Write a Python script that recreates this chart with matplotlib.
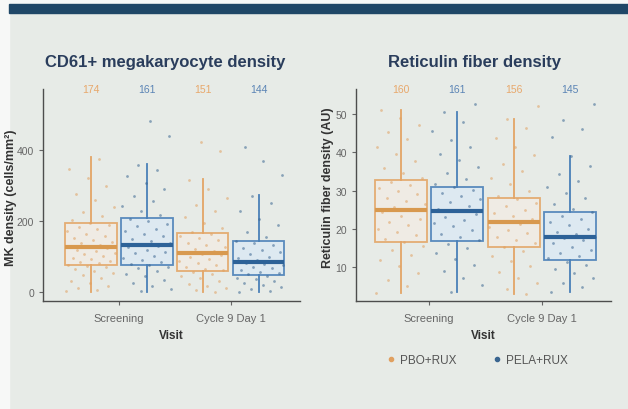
import matplotlib
matplotlib.use('Agg')
import matplotlib.pyplot as plt
import numpy as np
from matplotlib.patches import Rectangle
from matplotlib.lines import Line2D

plt.rcParams['font.family'] = ['Liberation Sans', 'DejaVu Sans']

visits = ['Screening', 'Cycle 9 Day 1']
arms = ['PBO+RUX', 'PELA+RUX']

# box stats, order: PBO scr, PELA scr, PBO c9, PELA c9
mk_q1 = [76, 76, 60, 49]
mk_med = [126, 134, 110, 84]
mk_q3 = [196, 210, 166, 145]
mk_lo = [0, 0, 0, 0]
mk_hi = [380, 360, 318, 273]
mk_n = [174, 161, 151, 144]

rf_q1 = [16.5, 16.9, 15.4, 11.9]
rf_med = [24.9, 24.6, 21.9, 18.0]
rf_q3 = [32.8, 30.9, 28.0, 24.5]
rf_lo = [3.4, 3.6, 3.0, 3.6]
rf_hi = [50.9, 50.4, 48.7, 39.1]
rf_n = [160, 161, 156, 145]

# individual points (read off roughly)
mk_pbo_scr = [3, 6, 12, 18, 25, 31, 40, 47, 55, 60, 66, 70, 74, 77, 81, 84, 88, 93, 97, 102, 106, 111,
              115, 119, 123, 126, 129, 134, 139, 142, 148, 153, 159, 165, 171, 178, 184, 190, 195, 203,
              214, 226, 241, 259, 276, 298, 320, 347, 375]
mk_pela_scr = [2, 9, 17, 26, 35, 44, 52, 60, 67, 72, 76, 80, 86, 91, 97, 103, 109, 114, 120, 126, 131,
               134, 138, 144, 150, 157, 164, 171, 178, 186, 193, 200, 207, 216, 229, 243, 258, 272, 290,
               307, 326, 344, 358, 440, 481]
mk_pbo_c9 = [1, 5, 11, 18, 24, 32, 39, 46, 52, 57, 61, 66, 71, 76, 82, 88, 94, 99, 104, 108, 111, 115,
             121, 127, 133, 139, 146, 152, 158, 163, 170, 181, 195, 211, 228, 246, 265, 289, 315, 397, 422]
mk_pela_c9 = [1, 4, 9, 14, 19, 25, 30, 36, 41, 46, 50, 54, 58, 62, 67, 71, 75, 79, 83, 86, 90, 95, 100,
              106, 112, 118, 125, 132, 139, 145, 156, 170, 188, 207, 228, 250, 271, 330, 370, 408]

rf_pbo_scr = [3.4, 5.0, 6.8, 8.5, 10.2, 11.8, 13.1, 14.5, 15.6, 16.6, 17.4, 18.3, 19.2, 20.1, 21.0, 21.8,
              22.7, 23.5, 24.3, 24.9, 25.6, 26.4, 27.3, 28.1, 29.0, 29.8, 30.6, 31.5, 32.3, 33.2, 34.5,
              36.0, 37.8, 39.6, 41.5, 43.4, 45.2, 47.1, 49.0, 50.9]
rf_pela_scr = [3.6, 5.4, 7.2, 8.9, 10.5, 12.1, 13.6, 15.0, 16.1, 17.0, 17.9, 18.8, 19.8, 20.7, 21.5, 22.4,
               23.2, 24.0, 24.6, 25.3, 26.1, 26.9, 27.8, 28.6, 29.4, 30.2, 30.9, 31.8, 33.1, 34.6, 36.2,
               37.9, 39.5, 41.4, 43.3, 45.5, 47.8, 50.4, 52.6]
rf_pbo_c9 = [3.0, 4.4, 5.9, 7.3, 8.8, 10.3, 11.7, 13.0, 14.2, 15.3, 16.2, 17.1, 18.0, 18.9, 19.7, 20.5,
             21.3, 21.9, 22.6, 23.4, 24.2, 25.0, 25.9, 26.8, 27.7, 28.6, 30.0, 31.6, 33.3, 35.1, 37.0,
             39.2, 41.5, 43.8, 46.2, 48.7, 52.0]
rf_pela_c9 = [3.6, 4.8, 6.0, 7.2, 8.4, 9.5, 10.6, 11.5, 12.3, 13.0, 13.8, 14.6, 15.4, 16.2, 17.0, 17.6,
              18.0, 18.6, 19.3, 20.1, 20.9, 21.7, 22.5, 23.4, 24.3, 25.3, 26.6, 28.0, 29.5, 31.0, 32.6,
              34.4, 36.5, 39.1, 44.0, 46.0, 48.5, 52.6]

BG = '#e7ebe7'
ORANGE = '#e3a566'
BLUE = '#4a80b8'
ORANGE_MED = '#d8994f'
BLUE_MED = '#2d6298'
DOT_O = '#e0a060'
DOT_B = '#3a6590'
NAVY = '#2a3d5c'

fig = plt.figure(figsize=(6.28, 4.10), dpi=100, facecolor=BG)
# slide decoration (behind everything)
fig.patches.append(Rectangle((0, 0), 9 / 628, 1, transform=fig.transFigure, color='#f7f8f7', zorder=-5))
fig.patches.append(Rectangle((0, 1 - 5 / 410), 1, 5 / 410, transform=fig.transFigure, color='#f7f8f7', zorder=-5))
fig.patches.append(Rectangle((9 / 628, 1 - 14 / 410), 1, 9 / 410, transform=fig.transFigure, color='#1f4767', zorder=-4))

offs = [-0.25, 0.25]
positions = [1 + offs[0], 1 + offs[1], 2 + offs[0], 2 + offs[1]]


def panel(rect, xlim, ylim, q1, med, q3, lo, hi, n, groups, yticks, ylabel, ylab_xy, title, title_x):
    ax = fig.add_axes(rect, facecolor='none')
    stats = []
    for i in range(4):
        stats.append({'q1': q1[i], 'med': med[i], 'q3': q3[i], 'whislo': lo[i], 'whishi': hi[i]})
    bp = ax.bxp(stats, positions=positions, widths=0.46, patch_artist=True,
                showfliers=False, showcaps=False)
    for i in range(4):
        c = ORANGE if i % 2 == 0 else BLUE
        bp['boxes'][i].set(facecolor='#f1ece4' if i % 2 == 0 else '#dce9f3', edgecolor=c,
                           linewidth=1.3, alpha=0.9, zorder=2)
        bp['medians'][i].set(color=ORANGE_MED if i % 2 == 0 else BLUE_MED, linewidth=3, zorder=4)
        for w in bp['whiskers'][2 * i:2 * i + 2]:
            w.set(color=c, linewidth=1.3, zorder=2)
    # jittered points, deterministic spread across box width
    for i, vals in enumerate(groups):
        k = np.arange(len(vals))
        jit = ((k * 0.618034 + i * 0.37) % 1 - 0.5) * 0.44
        ax.scatter(positions[i] + jit, vals, s=4, c=DOT_O if i % 2 == 0 else DOT_B,
                   alpha=0.55, linewidths=0, zorder=3)
    for i in range(4):
        ax.text(positions[i], 1.0, str(n[i]), transform=ax.get_xaxis_transform(),
                ha='center', va='center', fontsize=7.5,
                color='#e8a86c' if i % 2 == 0 else '#5b84b5')
    ax.set_xlim(xlim)
    ax.set_ylim(ylim)
    ax.set_xticks([1, 2])
    ax.set_xticklabels(visits)
    ax.set_yticks(yticks)
    for s in ['top', 'right']:
        ax.spines[s].set_visible(False)
    for s in ['left', 'bottom']:
        ax.spines[s].set_color('#4d4d4d')
        ax.spines[s].set_linewidth(1.0)
    ax.tick_params(colors='#666666', labelsize=7.5, length=3, labelcolor='#666666')
    ax.tick_params(axis='x', pad=6, labelsize=8)
    ax.set_ylabel(ylabel, fontsize=9, fontweight='bold', color='#333333', va='center')
    ax.yaxis.set_label_coords(*ylab_xy)
    ax.set_xlabel('Visit', fontsize=8.5, fontweight='bold', color='#333333', labelpad=4)
    fig.text(title_x, 1 - 63 / 410, title, ha='center', va='center', fontsize=12,
             fontweight='bold', color=NAVY)
    return ax


ax1 = panel([43 / 628, 1 - 302 / 410, 257 / 628, 212 / 410], (0.32, 2.62), (-25, 572),
            mk_q1, mk_med, mk_q3, mk_lo, mk_hi, mk_n,
            [mk_pbo_scr, mk_pela_scr, mk_pbo_c9, mk_pela_c9], [0, 200, 400],
            'MK density (cells/mm²)', (-0.125, 0.49), 'CD61+ megakaryocyte density', 165 / 628)
ax2 = panel([356 / 628, 1 - 302 / 410, 255 / 628, 212 / 410], (0.354, 2.61), (1.2, 56.5),
            rf_q1, rf_med, rf_q3, rf_lo, rf_hi, rf_n,
            [rf_pbo_scr, rf_pela_scr, rf_pbo_c9, rf_pela_c9], [10, 20, 30, 40, 50],
            'Reticulin fiber density (AU)', (-0.11, 0.54), 'Reticulin fiber density', 474 / 628)

handles = [Line2D([], [], marker='o', linestyle='none', markersize=3, color=DOT_O),
           Line2D([], [], marker='o', linestyle='none', markersize=3, color=DOT_B)]
fig.legend(handles, arms, ncol=2, loc='center', bbox_to_anchor=(477 / 628, 1 - 361 / 410),
           frameon=False, fontsize=8.5, handlelength=0.8, handletextpad=0.4, columnspacing=3,
           labelcolor='#555555')

fig.savefig('out.png', dpi=100, facecolor=BG)
